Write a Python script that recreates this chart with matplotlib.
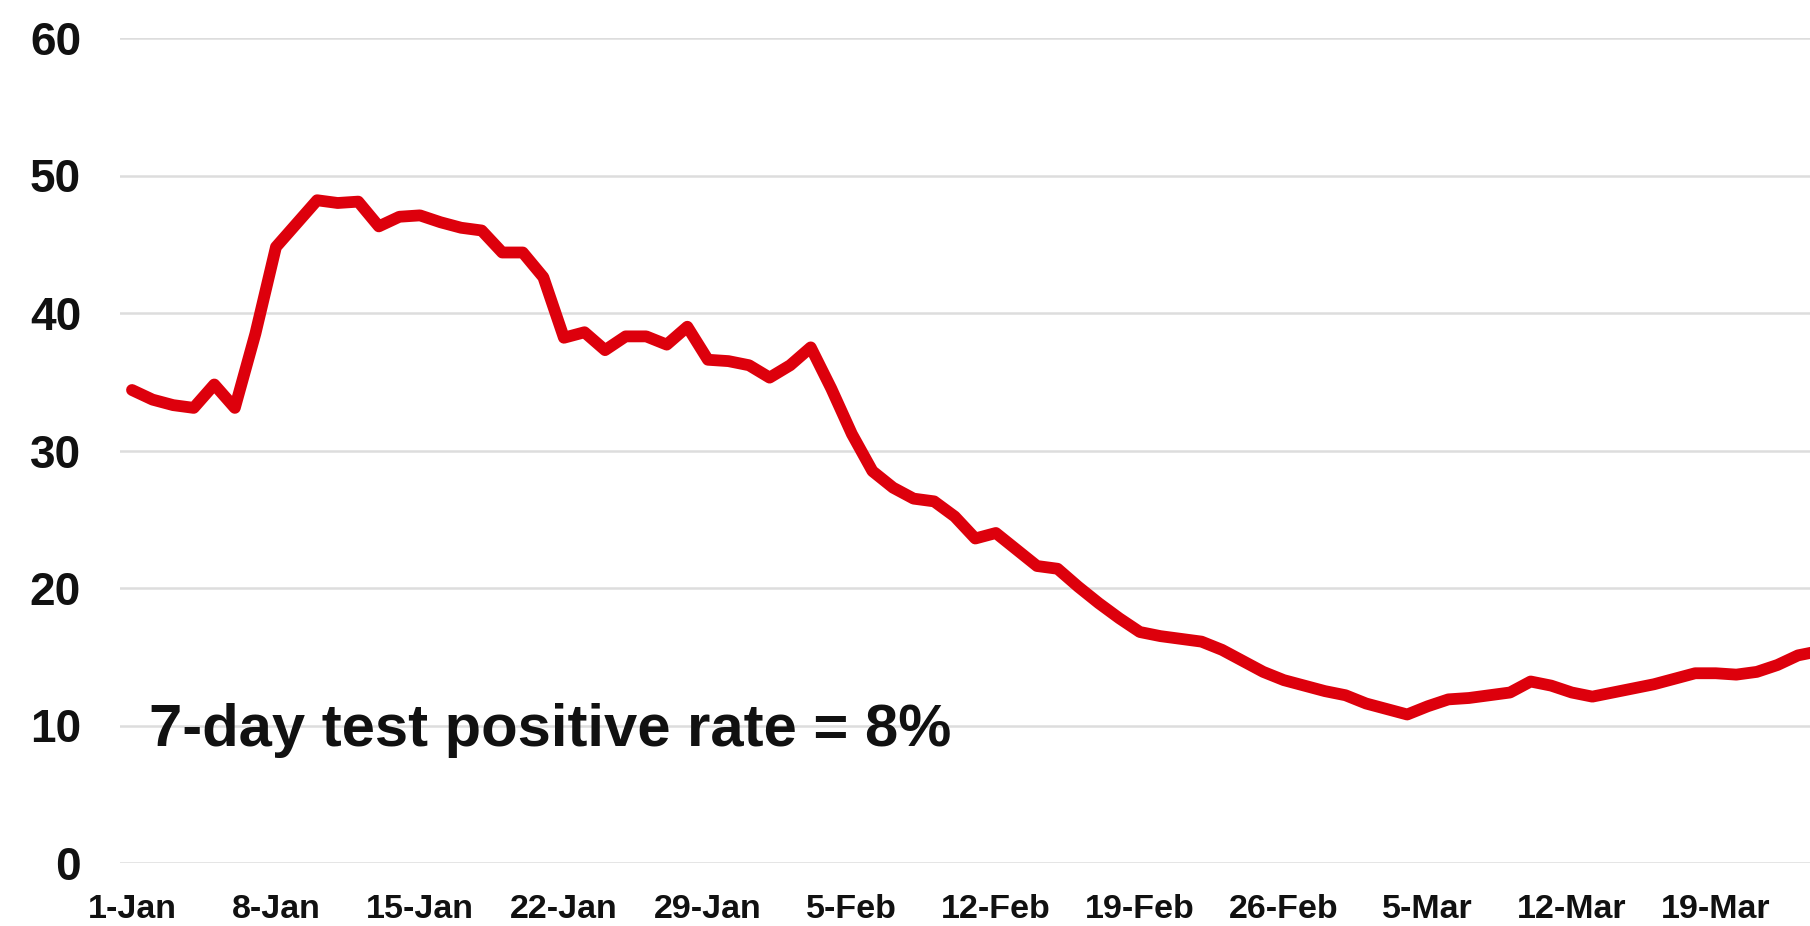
import numpy as np
import pandas as pd
import matplotlib
matplotlib.use("Agg")
import matplotlib.pyplot as plt
import matplotlib.dates as mdates

plt.rcParams["font.family"] = ["Liberation Sans", "DejaVu Sans"]

# daily 7-day test positive rate (%), from 1-Jan
start_date = "2021-01-01"
rate = [
    34.4, 33.7, 33.3, 33.1, 34.8, 33.1, 38.5, 44.8, 46.5, 48.2,
    48.0, 48.1, 46.3, 47.0, 47.1, 46.6, 46.2, 46.0, 44.4, 44.4,
    42.6, 38.2, 38.6, 37.3, 38.3, 38.3, 37.7, 39.0, 36.6, 36.5,
    36.2, 35.3, 36.2, 37.5, 34.5, 31.2, 28.5, 27.3, 26.5, 26.3,
    25.2, 23.6, 24.0, 22.8, 21.6, 21.4, 20.1, 18.9, 17.8, 16.8,
    16.5, 16.3, 16.1, 15.5, 14.7, 13.9, 13.3, 12.9, 12.5, 12.2,
    11.6, 11.2, 10.8, 11.4, 11.9, 12.0, 12.2, 12.4, 13.2, 12.9,
    12.4, 12.1, 12.4, 12.7, 13.0, 13.4, 13.8, 13.8, 13.7, 13.9,
    14.4, 15.1, 15.4,
]
dates = pd.date_range(start_date, periods=len(rate), freq="D")

y_ticks = [0, 10, 20, 30, 40, 50, 60]
note = "7-day test positive rate = 8%"

fig = plt.figure(figsize=(18.1, 9.26), dpi=100)
ax = fig.add_axes([120 / 1810, 63 / 926, 1690 / 1810, 825 / 926])

ax.plot(dates, rate, color="#dd000c", lw=8.5, solid_joinstyle="round",
        solid_capstyle="round", zorder=3)

ax.set_ylim(0, 60)
ax.set_yticks(y_ticks)
ax.set_xlim(dates[0] - pd.Timedelta(hours=14), dates[0] + pd.Timedelta(hours=int(81.6 * 24)))
ax.set_xticks(dates[::7][:12])
ax.xaxis.set_major_formatter(mdates.DateFormatter("%-d-%b"))

ax.grid(axis="y", color="#dddddd", lw=1.8)
ax.set_axisbelow(True)
for s in ax.spines.values():
    s.set_visible(False)
ax.tick_params(axis="both", length=0)
ax.tick_params(axis="y", labelsize=33, pad=28)
ax.tick_params(axis="x", labelsize=24.5, pad=22)
for lab in ax.get_xticklabels() + ax.get_yticklabels():
    lab.set_fontweight("bold")
    lab.set_color("#111111")

ax.text(dates[0] + pd.Timedelta(hours=20), 9.6, note, fontsize=43,
        fontweight="bold", color="#111111", ha="left", va="center")

fig.savefig("out.png", dpi=100)
